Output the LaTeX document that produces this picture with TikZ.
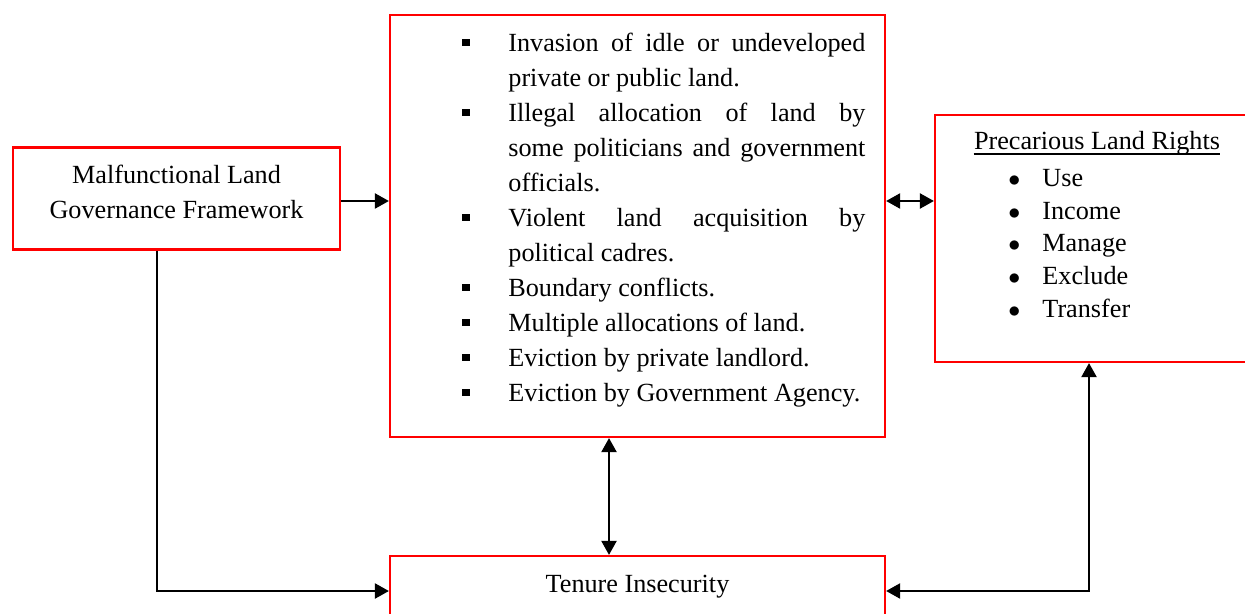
\documentclass[tikz,border=0pt]{standalone}
\usepackage{fontspec}
\setmainfont{Liberation Serif}
\usetikzlibrary{positioning,arrows.meta}
\definecolor{boxred}{HTML}{FF0000}
\newcommand{\sqbullet}{\raisebox{3pt}{\rule{3.6pt}{3.6pt}}}
\newenvironment{causelist}{%
  \begin{list}{\sqbullet\hfill}{%
    \setlength{\leftmargin}{23pt}\setlength{\labelwidth}{23pt}%
    \setlength{\labelsep}{0pt}\setlength{\itemsep}{0pt}%
    \setlength{\parsep}{0pt}\setlength{\topsep}{0pt}\setlength{\partopsep}{0pt}}}%
  {\end{list}}

\begin{document}
\begin{tikzpicture}[x=0.5pt,y=-0.5pt,
    every node/.style={font=\fontsize{13.1}{17.5}\selectfont},
    redbox/.style={draw=boxred,line width=1.1pt,inner sep=0pt},
    link/.style={-{Triangle[length=7pt,width=7.5pt]},line width=1.1pt},
    dlink/.style={{Triangle[length=7pt,width=7.5pt]}-{Triangle[length=7pt,width=7.5pt]},line width=1.1pt}]
  \clip (0,0) rectangle (1245,614);
  % Boxes
  \node[redbox,minimum width=163.5pt,minimum height=51pt] (mal) at (176.5,198.5) {};
  \node[redbox,minimum width=247.5pt,minimum height=211pt] (mid) at (637.5,226) {};
  \node[redbox,minimum width=170pt,minimum height=123.5pt] (prl) at (1105,238.5) {};
  \node[redbox,minimum width=247.5pt,minimum height=35pt] (ten) at (637.5,591) {};
  % Texts
  \node[anchor=base,align=center] (maltxt) at (176.5,219) {Malfunctional Land\\Governance Framework};
  \node[anchor=base] (tentxt) at (637.5,592) {Tenure Insecurity};
  \node[anchor=base,inner sep=0pt] (prltitle) at (1097,150) {Precarious Land Rights};
  \draw[line width=0.7pt] ([yshift=-2pt]prltitle.base west) -- ([yshift=-2pt]prltitle.base east);
  \node[anchor=base west,inner sep=0pt,text width=201.5pt,align=justify] (causes) at (462,17) {%
    \tolerance=10000\hyphenpenalty=10000
    \begin{causelist}
      \item Invasion of idle or undeveloped private or public land.
      \item Illegal allocation of land by\linebreak some politicians and government officials.
      \item Violent land acquisition by political cadres.
      \item Boundary conflicts.
      \item Multiple allocations of land.
      \item Eviction by private landlord.
      \item Eviction by Government Agency.
    \end{causelist}};
  \foreach \rname [count=\i] in {Use,Income,Manage,Exclude,Transfer}
    \node[anchor=base west,inner sep=0pt] (right\i) at (1008,{187+(\i-1)*32.5}) {\makebox[17pt][l]{$\bullet$}\rname};
  % Connectors
  \coordinate (lx) at (157,0);
  \coordinate (vx) at (609,0);
  \coordinate (rx) at (1089,0);
  \coordinate (ay) at (0,201);
  \draw[link] (mal.east |- ay) -- (mid.west |- ay);
  \draw[dlink] (mid.east |- ay) -- (prl.west |- ay);
  \draw[dlink] (vx |- mid.south) -- (vx |- ten.north);
  \draw[link] (lx |- mal.south) -- (lx |- ten.west) -- (ten.west);
  \draw[dlink] (ten.east) -- (rx |- ten.east) -- (rx |- prl.south);
\end{tikzpicture}
\end{document}
